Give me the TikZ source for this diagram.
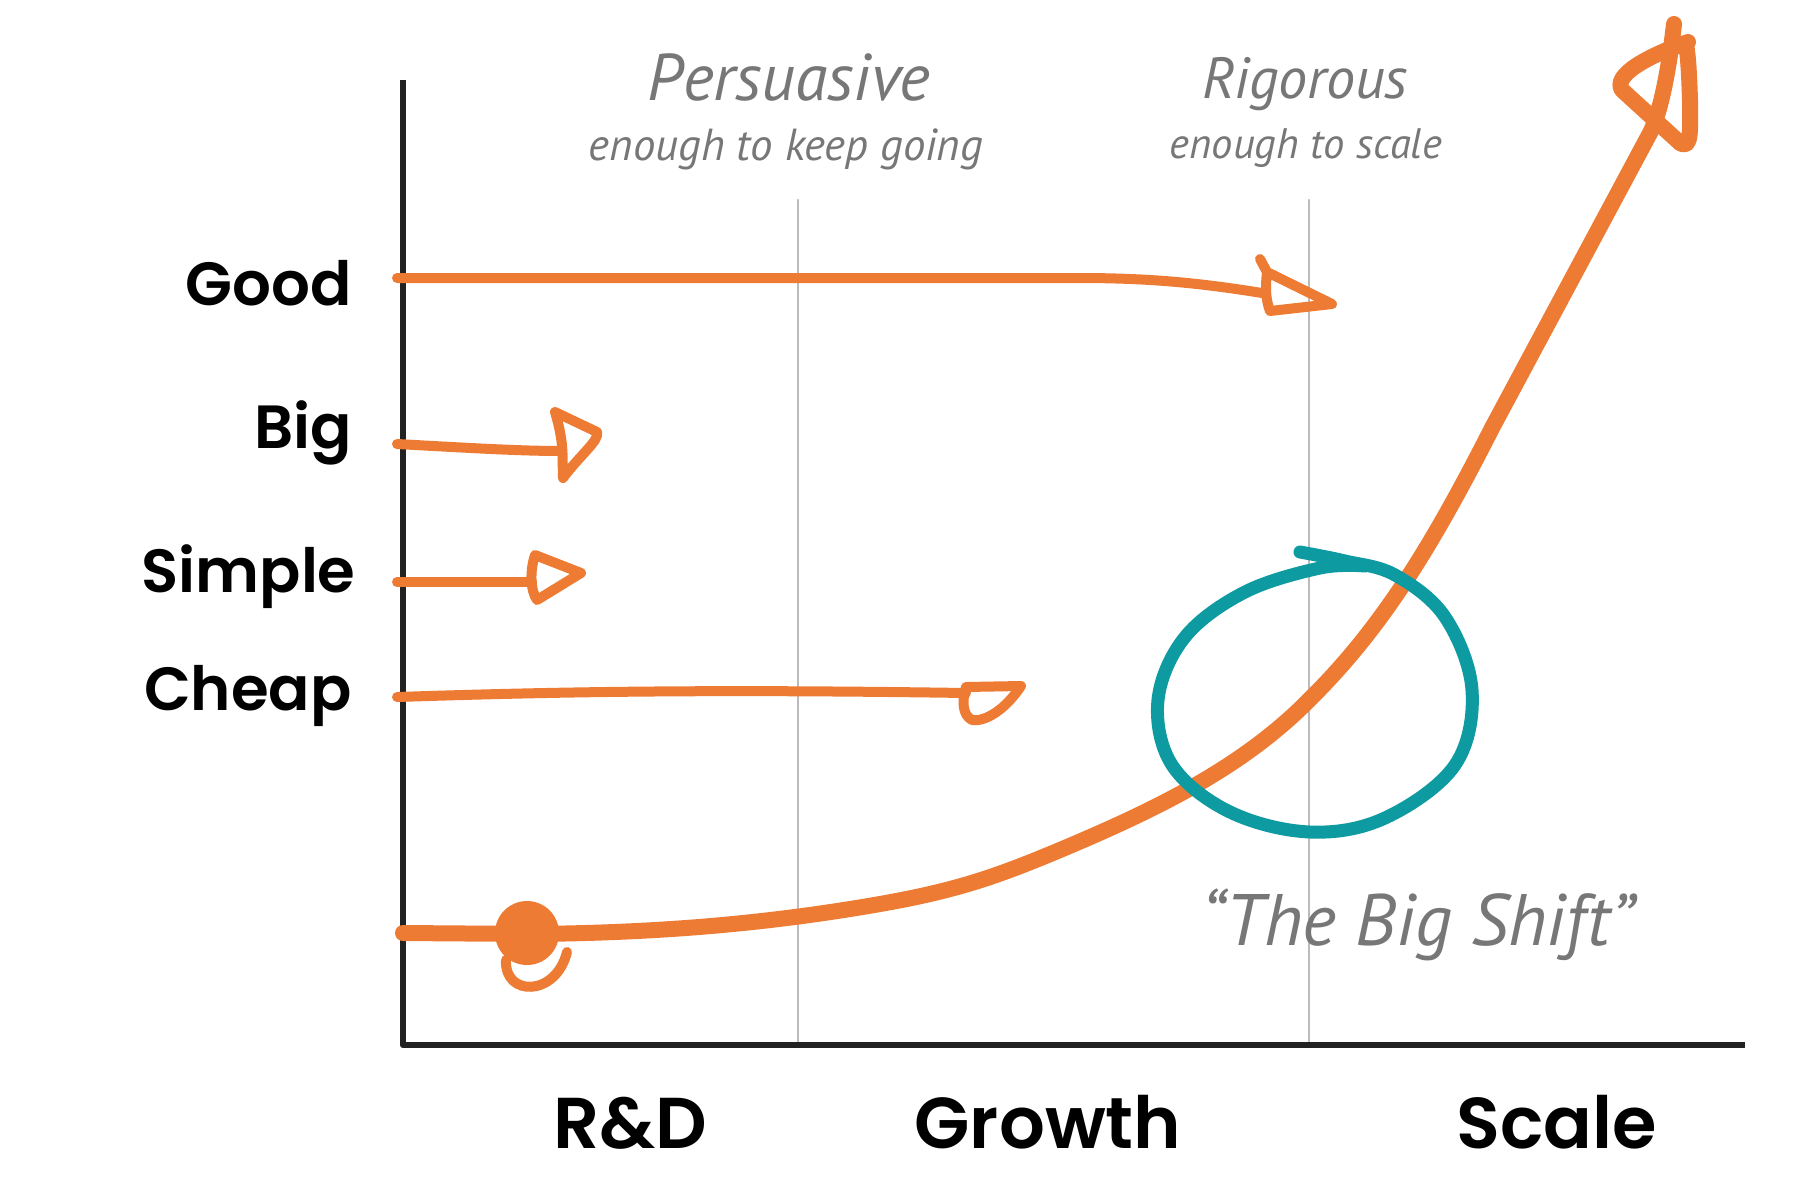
\documentclass[tikz,border=0pt]{standalone}
\usepackage{fontspec}
\setmainfont{Poppins}[BoldFont={Poppins SemiBold}]
\newfontfamily\hand{PT Sans}
\definecolor{orng}{HTML}{EE7B33}
\definecolor{teal}{HTML}{0D9AA0}
\definecolor{handgray}{HTML}{777777}
\definecolor{gridgray}{HTML}{BBBBBB}
\definecolor{axisblack}{HTML}{222222}
\begin{document}
\begin{tikzpicture}[x=0.5pt,y=-0.5pt,line cap=round,line join=round,
  qual/.style={font=\bfseries\fontsize{30.5}{30.5}\selectfont,anchor=base east,inner sep=0pt},
  phase/.style={font=\bfseries\fontsize{36}{36}\selectfont,anchor=base,inner sep=0pt},
  handtxt/.style={text=handgray,anchor=base,inner sep=0pt},
  axisline/.style={draw=axisblack,line width=3.2pt},
  gridline/.style={draw=gridgray,line width=1.1pt},
  arr/.style={draw=orng,line width=5pt},
  mainarr/.style={draw=orng,line width=8pt},
  loopline/.style={draw=teal,line width=6.5pt}]
\useasboundingbox (0,0) rectangle (1800,1200);
\fill[white] (0,0) rectangle (1800,1200);

% axes
\coordinate (origin) at (403,1045);
\coordinate (ytop) at (403,80);
\coordinate (xend) at (1745,1045);
% grid lines
\coordinate (g1top) at (798,200);
\coordinate (g1bot) at (798,1045);
\coordinate (g2top) at (1309,200);
\coordinate (g2bot) at (1309,1045);
\draw[gridline] (g1top) -- (g1bot);
\draw[gridline] (g2top) -- (g2bot);
\draw[axisline,line cap=butt] (ytop) -- (origin) -- (xend);

% row labels
\node[qual] (good) at (352,305) {Good};
\node[qual] (big) at (352,448) {Big};
\node[qual] (simple) at (356,592) {Simple};
\node[qual] (cheap) at (352,710) {Cheap};

% phase labels
\node[phase] (rd) at (630,1148) {R\&D};
\node[phase] (growth) at (1048,1148) {Growth};
\node[phase] (scale) at (1557,1148) {Scale};

% handwritten labels
\node[handtxt] (pers) at (789,100) {\resizebox{141pt}{!}{\hand\itshape Persuasive}};
\node[handtxt] (persb) at (786,160) {\resizebox{197pt}{!}{\hand\itshape enough to keep going}};
\node[handtxt] (rig) at (1305,98) {\resizebox{103pt}{!}{\hand\itshape Rigorous}};
\node[handtxt] (rigb) at (1306,158) {\resizebox{136pt}{!}{\hand\itshape enough to scale}};
\node[handtxt] (shift) at (1418,945) {\resizebox{216pt}{!}{\hand\itshape “The Big Shift”}};

% Good arrow
\coordinate (goodS) at (397,278);
\coordinate (goodE) at (1262,293);
\draw[arr] (goodS) -- (1079,278) .. controls (1150,278) and (1200,283) .. (goodE);
\draw[arr] (1260,259) -- (1267,272) .. controls (1265,290) and (1266,300) .. (1270,311) -- (1332,304) -- (1267,272);
% Big arrow
\coordinate (bigS) at (397,444);
\coordinate (bigE) at (561,451);
\draw[arr] (bigS) .. controls (470,448) and (520,451) .. (bigE);
\draw[arr] (555,412) -- (597,432) .. controls (600,440) and (580,455) .. (563,478) .. controls (562,460) and (565,445) .. cycle;
% Simple arrow
\coordinate (simS) at (397,582);
\coordinate (simE) at (532,582);
\draw[arr] (simS) -- (simE);
\draw[arr] (535,555) -- (581,573) -- (537,600) .. controls (530,590) and (530,570) .. cycle;
% Cheap arrow
\coordinate (chS) at (397,697);
\coordinate (chE) at (966,693);
\draw[arr] (chS) .. controls (550,692) and (700,689) .. (chE);
\draw[arr] (966,687) -- (1021,686) .. controls (1005,710) and (985,722) .. (972,720) .. controls (962,715) and (962,700) .. cycle;

% main growth curve
\coordinate (mS) at (403,933);
\coordinate (mE) at (1674,24);
\draw[mainarr] (mS) -- (530,934) .. controls (650,933) and (760,925) .. (880,904)
  .. controls (960,890) and (1000,875) .. (1060,850)
  .. controls (1150,812) and (1240,770) .. (1309,700)
  .. controls (1380,630) and (1430,550) .. (1492,428)
  -- (1650,133) .. controls (1662,110) and (1670,60) .. (mE);
\draw[mainarr] (1688,42) .. controls (1650,55) and (1612,75) .. (1622,90) -- (1680,143) .. controls (1692,150) and (1690,130) .. (1690,100) .. controls (1689,70) and (1688,55) .. (1686,44);
% start blob
\fill[orng] (527,933) circle (32);
\draw[arr] (506,960) .. controls (504,997) and (556,997) .. (567,952);

% big shift loop
\draw[loopline] plot[smooth,tension=0.6] coordinates {(1300,552) (1345,561) (1395,575) (1445,617) (1472,690) (1455,765) (1385,818) (1310,832) (1230,812) (1172,765) (1158,700) (1185,637) (1245,592) (1320,568) (1365,566)};
\end{tikzpicture}
\end{document}
